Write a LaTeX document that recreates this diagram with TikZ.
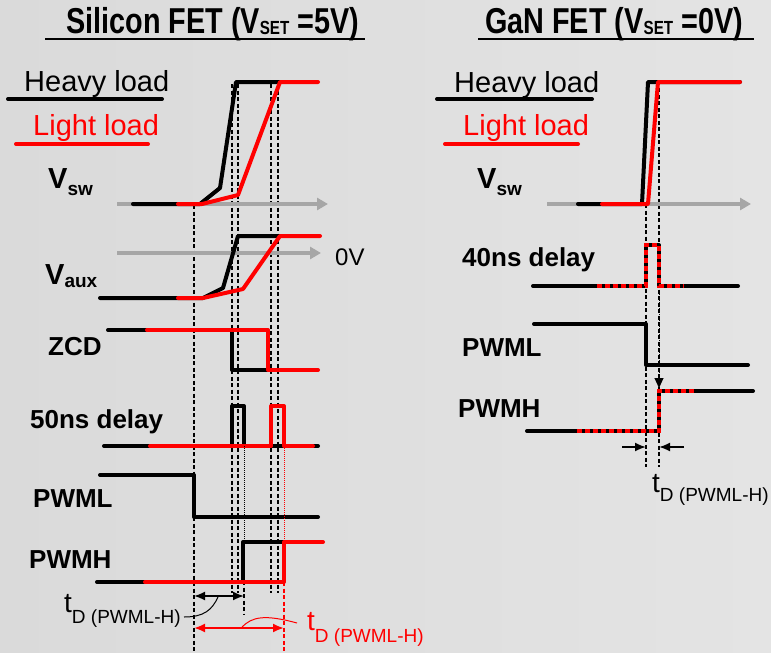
\documentclass[tikz,border=0pt]{standalone}
\usepackage{fontspec}
\setmainfont{Liberation Sans}
\newfontfamily\titlefont[FakeStretch=0.8]{Liberation Sans}
\usetikzlibrary{arrows.meta}
\definecolor{bgL}{RGB}{218,218,218}
\definecolor{bgR}{RGB}{228,228,228}
\definecolor{axisgray}{RGB}{166,166,166}
\definecolor{wred}{RGB}{255,0,0}
\begin{document}
\begin{tikzpicture}[x=1pt,y=-1pt,
  wave/.style={line width=4pt, line cap=round, line join=round},
  hv/.style={wave, black},
  lt/.style={wave, wred},
  ltdot/.style={line width=4pt, wred, dash pattern=on 5pt off 3pt},
  axis/.style={line width=4pt, axisgray, -{Triangle[length=11pt,width=12pt]}},
  guide/.style={line width=1.2pt, dash pattern=on 4pt off 2.5pt},
  thindot/.style={line width=1pt, densely dotted},
  lbl/.style={anchor=base west, inner sep=0pt, font=\fontsize{26}{26}\selectfont\bfseries},
  legend/.style={anchor=base west, inner sep=0pt, font=\fontsize{29}{29}\selectfont},
  ttl/.style={anchor=base west, inner sep=0pt, font=\fontsize{36}{36}\titlefont\bfseries},
  tdl/.style={anchor=base west, inner sep=0pt, font=\fontsize{28}{28}\selectfont},
  ulin/.style={line width=4pt, line cap=round},
  dim/.style={line width=1.8pt, {Latex[length=11pt,width=9pt]}-{Latex[length=11pt,width=9pt]}},
  tdtip/.style={line width=1.8pt, -{Latex[length=11pt,width=9pt]}}
]
\shade[left color=bgL, right color=bgR] (0,0) rectangle (771,653);
\useasboundingbox (0,0) rectangle (771,653);

% ---------- titles ----------
\node[ttl] (t1) at (66,33) {Silicon FET (V\raisebox{-1pt}{\fontsize{19}{19}\titlefont\bfseries SET} =5V)};
\node[ttl] (t2) at (485,33) {GaN FET (V\raisebox{-1pt}{\fontsize{19}{19}\titlefont\bfseries SET} =0V)};
\draw[line width=2.5pt] (45,39) -- (365,39);
\draw[line width=2.5pt] (478,39) -- (754,39);

% ---------- legends ----------
\node[legend] (hl1) at (24,91) {Heavy load};
\draw[ulin] (8,99) -- (162,99);
\node[legend, text=wred] (ll1) at (33,135) {Light load};
\draw[ulin, wred] (16,144) -- (148,144);
\node[legend] (hl2) at (454,92) {Heavy load};
\draw[ulin] (437,99) -- (592,99);
\node[legend, text=wred] (ll2) at (463,135) {Light load};
\draw[ulin, wred] (445,144) -- (578,144);

% ---------- left labels ----------
\node[lbl] (vsw1) at (48,188) {\fontsize{29}{29}\selectfont V\raisebox{-7pt}{\fontsize{19}{19}\selectfont sw}};
\node[lbl] (vaux) at (45,284) {\fontsize{29}{29}\selectfont V\raisebox{-3pt}{\fontsize{19}{19}\selectfont aux}};
\node[lbl] (zcd) at (48,355) {ZCD};
\node[lbl] (d50) at (30,428) {50ns delay};
\node[lbl] (pwml1) at (33,507) {PWML};
\node[lbl] (pwmh1) at (29,568) {PWMH};
\node[anchor=base west, inner sep=0pt, font=\fontsize{24}{24}\selectfont] (zv) at (335,265) {0V};

% ---------- right labels ----------
\node[lbl] (vsw2) at (477,188) {\fontsize{29}{29}\selectfont V\raisebox{-7pt}{\fontsize{19}{19}\selectfont sw}};
\node[lbl] (d40) at (462,266) {40ns delay};
\node[lbl] (pwml2) at (462,356) {PWML};
\node[lbl] (pwmh2) at (458,417) {PWMH};

% ---------- guides (left) ----------
\draw[guide] (194,205) -- (194,653);
\draw[guide] (232,84) -- (232,593);
\draw[guide] (238,84) -- (238,593);
\draw[guide] (271,84) -- (271,593);
\draw[guide] (278,84) -- (278,593);
\draw[guide] (244,542) -- (244,615);
\draw[guide, wred] (284,582) -- (284,653);
% ---------- guides (right) ----------
\draw[guide] (646,204) -- (646,467);
\draw[guide] (659,88) -- (659,467);

% ---------- axes ----------
\draw[axis] (117,204) -- (328,204);
\draw[axis] (117,253) -- (321,253);
\draw[axis] (547,204) -- (751,204);

% ---------- left waveforms ----------
% Vsw
\draw[hv] (133,204) -- (200,204) -- (220,188) -- (236,82) -- (280,82);
\draw[lt] (178,204) -- (202,204) -- (238,195) -- (280,82) -- (318,82);
% Vaux
\draw[hv] (100,298) -- (203,298) -- (223,288) -- (238,236) -- (280,236);
\draw[lt] (178,298) -- (203,298) -- (243,289) -- (280,236) -- (320,236);
% ZCD
\draw[hv] (108,330) -- (232,330) -- (232,370) -- (268,370);
\draw[lt] (147,330) -- (268,330) -- (268,370) -- (318,370);
% 50ns delay
\draw[hv] (104,446) -- (232,446) -- (232,406) -- (244,406) -- (244,446) -- (318,446);
\draw[lt] (150,446) -- (271,446) -- (271,406) -- (284,406) -- (284,446) -- (313,446);
% PWML
\draw[hv] (100,475) -- (194,475) -- (194,517) -- (318,517);
% PWMH
\draw[hv] (97,582) -- (243,582) -- (243,542) -- (284,542);
\draw[lt] (145,582) -- (284,582) -- (284,542) -- (323,542);
% delay links
\draw[thindot] (244,446) -- (244,542);
\draw[thindot, wred] (284,446) -- (284,542);

% ---------- left timing annotations ----------
\coordinate (a1) at (194,596);
\coordinate (a2) at (244,596);
\draw[dim] (a1) -- (a2);
\node[tdl] (td1) at (64,612) {t\raisebox{-11pt}{\fontsize{19}{19}\selectfont D (PWML-H)}};
\coordinate (c1s) at (184,617);
\coordinate (c1e) at (218,597);
\draw[line width=1pt] (c1s) .. controls (204,617) and (212,610) .. (c1e);
\coordinate (b1) at (194,628);
\coordinate (b2) at (284,628);
\draw[dim, wred, line width=2pt] (b1) -- (b2);
\coordinate (c2s) at (242,627);
\coordinate (c2e) at (297,623);
\draw[line width=1pt, wred] (c2s) .. controls (252,617) and (264,614) .. (c2e);
\node[tdl, text=wred] (td2) at (307,630) {t\raisebox{-12pt}{\fontsize{19}{19}\selectfont D (PWML-H)}};

% ---------- right waveforms ----------
% Vsw
\draw[hv] (578,204) -- (642,204) -- (648,82) -- (740,82);
\draw[lt] (602,204) -- (648,204) -- (658,82) -- (740,82);
% 40ns delay
\draw[hv] (533,286) -- (646,286) -- (646,245) -- (659,245) -- (659,286) -- (738,286);
\draw[ltdot] (597,286) -- (646,286) -- (646,245) -- (659,245) -- (659,286) -- (684,286);
% PWML
\draw[hv] (534,324) -- (646,324) -- (646,365) -- (748,365);
% PWMH
\draw[hv] (527,431) -- (659,431) -- (659,391) -- (753,391);
\draw[ltdot] (577,431) -- (659,431) -- (659,391) -- (695,391);
% delay link arrow
\coordinate (r1) at (659,290);
\coordinate (r2) at (659,388);
\draw[thindot, -{Triangle[length=10pt,width=9pt]}] (r1) -- (r2);

% ---------- right timing annotation ----------
\coordinate (p1) at (622,447);
\coordinate (p2) at (646,447);
\coordinate (q1) at (684,447);
\coordinate (q2) at (659,447);
\draw[tdtip] (p1) -- (p2);
\draw[tdtip] (q1) -- (q2);
\node[tdl] (td3) at (652,492) {t\raisebox{-9pt}{\fontsize{19}{19}\selectfont D (PWML-H)}};
\end{tikzpicture}
\end{document}
